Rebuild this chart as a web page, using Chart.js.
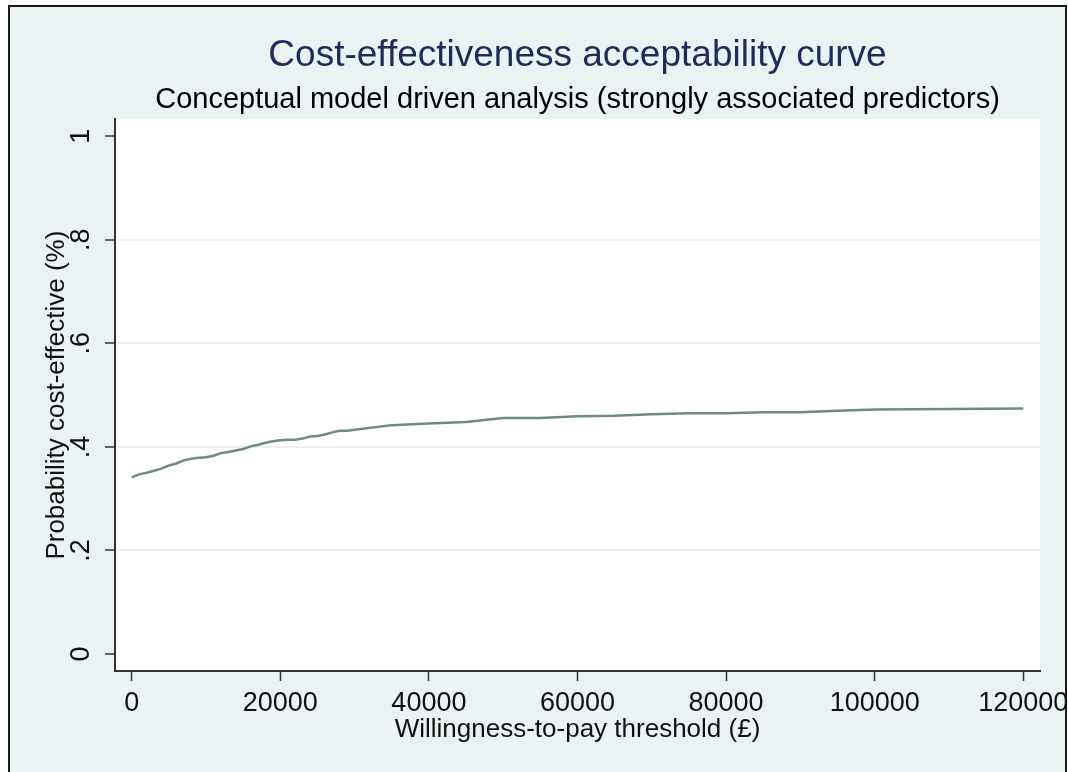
<!DOCTYPE html>
<html>
<head>
<meta charset="utf-8">
<script src="https://cdn.jsdelivr.net/npm/chart.js@4"></script>
<style>
  html, body { margin: 0; padding: 0; background: #ffffff; }
  #wrap { position: absolute; left: 0; top: 0; width: 1068px; height: 772px; }
</style>
</head>
<body>
<div id="wrap"><canvas id="ceacChart" width="1068" height="772"></canvas></div>
<script>
// willingness-to-pay thresholds (GBP) and probability cost-effective
var wtp = [0, 500, 1000, 2000, 3000, 4000, 5000, 6000, 7000, 8000, 9000, 10000,
    11000, 12000, 13000, 14000, 15000, 16000, 17000, 18000, 19000, 20000,
    21000, 22000, 23000, 24000, 25000, 26000, 27000, 28000, 29000, 30000,
    35000, 40000, 45000, 50000, 55000, 60000, 65000, 70000, 75000, 80000,
    85000, 90000, 95000, 100000, 110000, 120000];
var probCE = [0.341, 0.344, 0.347, 0.350, 0.354, 0.358, 0.364, 0.368, 0.374, 0.377, 0.379, 0.380,
    0.383, 0.388, 0.390, 0.393, 0.396, 0.401, 0.404, 0.408, 0.411, 0.413,
    0.414, 0.414, 0.416, 0.420, 0.421, 0.424, 0.428, 0.431, 0.431, 0.433,
    0.442, 0.445, 0.448, 0.456, 0.456, 0.459, 0.460, 0.463, 0.465, 0.465,
    0.467, 0.467, 0.470, 0.472, 0.473, 0.474];

var xTicks = [0, 20000, 40000, 60000, 80000, 100000, 120000];
var yTicks = [0, 0.2, 0.4, 0.6, 0.8, 1];

var FONT = "'Liberation Sans', Arial, Helvetica, sans-serif";
var bgColor = '#eaf2f3';

// outer light panel, frame and white plot region
var stataBackground = {
    id: 'stataBackground',
    beforeDraw: function (chart) {
        var ctx = chart.ctx;
        var a = chart.chartArea;
        ctx.save();
        ctx.fillStyle = '#ffffff';
        ctx.fillRect(0, 0, chart.width, chart.height);
        ctx.fillStyle = bgColor;
        ctx.fillRect(10, 7, 1056, chart.height - 7);
        ctx.strokeStyle = '#1a1a1a';
        ctx.lineWidth = 2;
        ctx.beginPath();
        ctx.moveTo(9, chart.height + 2);
        ctx.lineTo(9, 6);
        ctx.lineTo(1066, 6);
        ctx.lineTo(1066, chart.height + 2);
        ctx.stroke();
        ctx.fillStyle = '#ffffff';
        ctx.fillRect(a.left, a.top, a.right - a.left, a.bottom - a.top);
        ctx.restore();
    }
};

var points = wtp.map(function (w, i) { return { x: w, y: probCE[i] }; });

var ctx = document.getElementById('ceacChart').getContext('2d');
var chart = new Chart(ctx, {
    type: 'line',
    data: {
        datasets: [{
            label: 'Probability cost-effective',
            data: points,
            borderColor: '#6c8b81',
            borderWidth: 2.5,
            pointRadius: 0,
            tension: 0,
            fill: false
        }]
    },
    plugins: [stataBackground],
    options: {
        responsive: false,
        animation: false,
        layout: { padding: { left: 0, right: 28, top: 0, bottom: 0 } },
        plugins: {
            legend: { display: false },
            tooltip: { enabled: false },
            title: {
                display: true,
                fullSize: false,
                text: 'Cost-effectiveness acceptability curve',
                color: '#1e2c5a',
                font: { family: FONT, size: 37, weight: 'normal', lineHeight: 1.2 },
                padding: { top: 34, bottom: 0 }
            },
            subtitle: {
                display: true,
                fullSize: false,
                text: 'Conceptual model driven analysis (strongly associated predictors)',
                color: '#000000',
                font: { family: FONT, size: 29, weight: 'normal', lineHeight: 1.2 },
                padding: { top: 4, bottom: 2 }
            }
        },
        scales: {
            x: {
                type: 'linear',
                min: -2250,
                max: 122250,
                afterBuildTicks: function (scale) {
                    scale.ticks = xTicks.map(function (v) { return { value: v }; });
                },
                afterFit: function (scale) {
                    scale.height = 101;
                    scale.paddingLeft = 0;
                    scale.paddingRight = 0;
                },
                border: { display: true, color: '#333333', width: 2 },
                grid: {
                    drawOnChartArea: false,
                    drawTicks: true,
                    tickLength: 10,
                    tickColor: '#333333',
                    tickWidth: 1.5
                },
                ticks: {
                    color: '#111111',
                    font: { family: FONT, size: 27 },
                    padding: 6,
                    maxRotation: 0,
                    autoSkip: false,
                    callback: function (v) { return String(v); }
                },
                title: {
                    display: true,
                    text: 'Willingness-to-pay threshold (£)',
                    color: '#111111',
                    font: { family: FONT, size: 26, lineHeight: 1.2 },
                    padding: { top: 0, bottom: 27 }
                }
            },
            y: {
                type: 'linear',
                min: -0.0328,
                max: 1.0328,
                afterBuildTicks: function (scale) {
                    scale.ticks = yTicks.map(function (v) { return { value: v }; });
                },
                afterFit: function (scale) {
                    scale.width = 115;
                    scale.paddingTop = 0;
                    scale.paddingBottom = 0;
                },
                border: { display: true, color: '#333333', width: 2 },
                grid: {
                    drawOnChartArea: true,
                    drawTicks: true,
                    tickLength: 10,
                    tickColor: '#333333',
                    tickWidth: 1.5,
                    lineWidth: 2,
                    color: function (c) {
                        var v = c.tick ? c.tick.value : null;
                        return (v === 0 || v === 1) ? 'rgba(0,0,0,0)' : bgColor;
                    }
                },
                ticks: {
                    color: '#111111',
                    font: { family: FONT, size: 27 },
                    padding: 12,
                    minRotation: 90,
                    maxRotation: 90,
                    crossAlign: 'center',
                    autoSkip: false,
                    callback: function (v) {
                        if (v === 0) return '0';
                        if (v === 1) return '1';
                        return String(v).replace(/^0/, '');
                    }
                },
                title: {
                    display: true,
                    text: 'Probability cost-effective (%)',
                    color: '#111111',
                    font: { family: FONT, size: 26, lineHeight: 1.2 },
                    padding: { top: 41, bottom: 0 }
                }
            }
        }
    }
});
</script>
</body>
</html>
